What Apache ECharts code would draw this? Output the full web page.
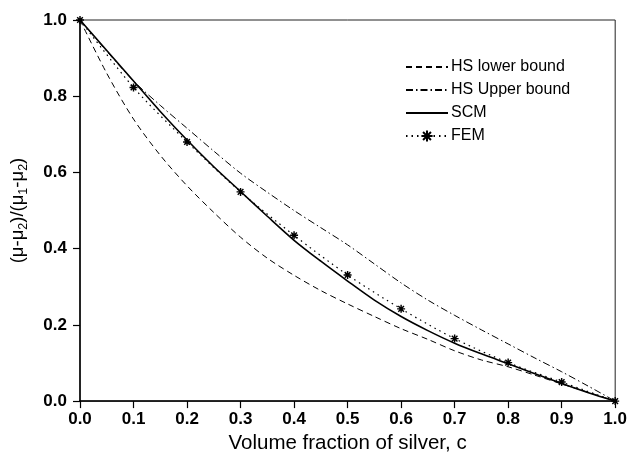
<!DOCTYPE html>
<html>
<head>
<meta charset="utf-8">
<script src="https://cdn.jsdelivr.net/npm/echarts@6/dist/echarts.min.js"></script>
<style>
html,body{margin:0;padding:0;background:#fff;}
#chart{width:630px;height:459px;}
</style>
</head>
<body>
<div id="chart"></div>
<script>
// ---- data ----
var curveC = [0, 0.05, 0.1, 0.15, 0.2, 0.25, 0.3, 0.35, 0.4, 0.45, 0.5, 0.55, 0.6, 0.65, 0.7, 0.75, 0.8, 0.85, 0.9, 0.95, 1.0];
var hsLower = [1, 0.86, 0.74, 0.645, 0.565, 0.495, 0.43, 0.375, 0.33, 0.29, 0.255, 0.222, 0.19, 0.162, 0.132, 0.108, 0.09, 0.068, 0.045, 0.023, 0];
var hsUpper = [1, 0.918, 0.84, 0.776, 0.716, 0.656, 0.598, 0.548, 0.5, 0.455, 0.41, 0.36, 0.31, 0.265, 0.225, 0.187, 0.15, 0.113, 0.077, 0.039, 0];
var scm = [1, 0.92, 0.84, 0.76, 0.685, 0.615, 0.55, 0.485, 0.422, 0.367, 0.315, 0.265, 0.222, 0.185, 0.152, 0.124, 0.098, 0.072, 0.046, 0.022, 0];
var femC = [0, 0.1, 0.2, 0.3, 0.4, 0.5, 0.6, 0.7, 0.8, 0.9, 1.0];
var fem = [1, 0.823, 0.68, 0.549, 0.435, 0.331, 0.242, 0.164, 0.101, 0.05, 0];
var xTicks = ['0.0','0.1','0.2','0.3','0.4','0.5','0.6','0.7','0.8','0.9','1.0'];
var seriesNames = ['HS lower bound', 'HS Upper bound', 'SCM', 'FEM'];

function pairs(xs, ys) { return xs.map(function (x, i) { return [x, ys[i]]; }); }

var star = 'path://M-1,-0.18 L1,-0.18 L1,0.18 L-1,0.18 Z M-0.18,-1 L0.18,-1 L0.18,1 L-0.18,1 Z M-0.58,-0.834 L0.834,0.58 L0.58,0.834 L-0.834,-0.58 Z M0.834,-0.58 L-0.58,0.834 L-0.834,0.58 L0.58,-0.834 Z';
var FONT = '"Liberation Sans", Arial, Helvetica, sans-serif';
var hidden = {opacity: 0};

var chart = echarts.init(document.getElementById('chart'), null, {renderer: 'canvas'});
chart.setOption({
  animation: false,
  backgroundColor: '#fff',
  textStyle: {fontFamily: FONT, color: '#000'},
  grid: {left: 80, right: 13, top: 20, bottom: 55, show: true, borderColor: '#222', borderWidth: 1, backgroundColor: 'transparent'},
  legend: {
    orient: 'vertical', left: 400, top: 54, itemWidth: 42, itemHeight: 14, itemGap: 7,
    data: [
      {name: seriesNames[0], itemStyle: hidden},
      {name: seriesNames[1], itemStyle: hidden},
      {name: seriesNames[2], itemStyle: hidden},
      {name: seriesNames[3]}
    ],
    textStyle: {fontFamily: FONT, fontSize: 16, color: '#000', padding: [0,0,0,-2]}
  },
  xAxis: {
    type: 'value', min: 0, max: 1, interval: 0.1,
    axisLine: {show: true, lineStyle: {color: '#000', width: 1.5}},
    axisTick: {show: true, length: 7, lineStyle: {color: '#000', width: 1.2}},
    splitLine: {show: false},
    axisLabel: {margin: 10, fontSize: 17, fontWeight: 'bold', color: '#000', fontFamily: FONT,
      formatter: function (v) { return xTicks[Math.round(v * 10)]; }},
    name: 'Volume fraction of silver, c', nameLocation: 'middle', nameGap: 23,
    nameTextStyle: {fontSize: 20.5, color: '#000', fontFamily: FONT}
  },
  yAxis: {
    type: 'value', min: 0, max: 1, interval: 0.2,
    axisLine: {show: true, lineStyle: {color: '#000', width: 1.5}},
    axisTick: {show: true, length: 7, lineStyle: {color: '#000', width: 1.2}},
    splitLine: {show: false},
    axisLabel: {margin: 13, fontSize: 17, fontWeight: 'bold', color: '#000', fontFamily: FONT,
      formatter: function (v) { return v.toFixed(1); }},
    name: '{m|(μ-μ}{s|2}{m|)/(μ}{s|1}{m|-μ}{s|2}{m|)}', nameLocation: 'middle', nameGap: 50, nameRotate: 90,
    nameTextStyle: {
      color: '#000', fontFamily: FONT,
      rich: {
        m: {fontSize: 18.5, lineHeight: 24, color: '#000', fontFamily: FONT},
        s: {fontSize: 12.5, lineHeight: 12, verticalAlign: 'bottom', color: '#000', fontFamily: FONT}
      }
    }
  },
  series: [
    {name: seriesNames[0], type: 'line', data: pairs(curveC, hsLower), smooth: 0.3, symbol: 'none',
      lineStyle: {color: '#000', width: 1, type: [6, 4]}, itemStyle: {color: '#000'}},
    {name: seriesNames[1], type: 'line', data: pairs(curveC, hsUpper), smooth: 0.3, symbol: 'none',
      lineStyle: {color: '#000', width: 1, type: [7, 3, 1.5, 3]}, itemStyle: {color: '#000'}},
    {name: seriesNames[2], type: 'line', data: pairs(curveC, scm), smooth: 0.3, symbol: 'none',
      lineStyle: {color: '#000', width: 1.6, type: 'solid'}, itemStyle: {color: '#000'}},
    {name: seriesNames[3], type: 'line', data: pairs(femC, fem), smooth: 0.3, symbol: star, symbolSize: 8,
      showAllSymbol: true,
      lineStyle: {color: '#000', width: 1.2, type: [1.5, 4]}, itemStyle: {color: '#000'}}
  ]
});
</script>
</body>
</html>
